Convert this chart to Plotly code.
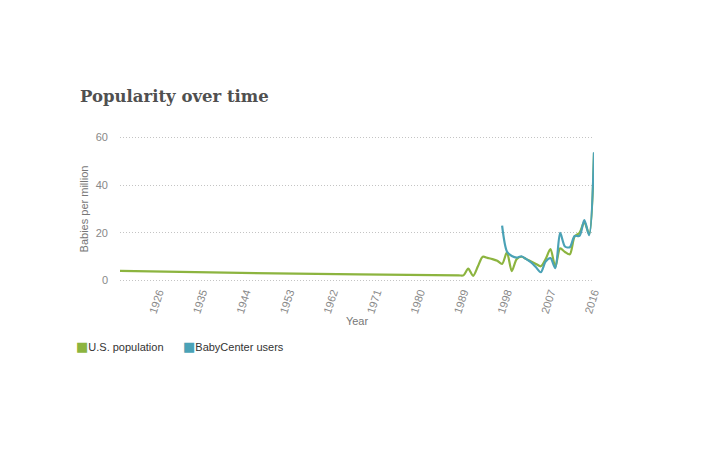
import plotly.graph_objects as go

# ---- data ----
us_years = [1918, 1950, 1988, 1989, 1990, 1991, 1992, 1993, 1994, 1995, 1996, 1997,
            1998, 1999, 2000, 2001, 2002, 2003, 2004, 2005, 2006, 2007, 2008,
            2009, 2010, 2011, 2012, 2013, 2014, 2015, 2016]
us_values = [4.1, 3.0, 2.2, 2.2, 5.0, 2.0, 6.0, 10.0, 9.5, 9.0, 8.3, 7.0,
             11.8, 4.0, 9.0, 10.0, 9.0, 8.0, 7.0, 6.0, 9.0, 13.2, 5.8,
             13.5, 12.0, 11.0, 18.5, 20.0, 24.5, 19.5, 53.5]

bc_years = [1997, 1998, 1999, 2000, 2001, 2002, 2003, 2004, 2005, 2006, 2007,
            2008, 2009, 2010, 2011, 2012, 2013, 2014, 2015, 2016]
bc_values = [23.0, 12.2, 10.3, 9.6, 10.2, 9.0, 7.6, 5.6, 3.5, 8.0, 9.4,
             5.2, 20.0, 14.3, 14.0, 18.7, 18.7, 25.3, 19.0, 53.8]

x_ticks = [1926, 1935, 1944, 1953, 1962, 1971, 1980, 1989, 1998, 2007, 2016]
y_ticks = [0, 20, 40, 60]

GREEN = "#8cb43f"
TEAL = "#4aa2b6"

fig = go.Figure()
fig.add_trace(go.Scatter(x=us_years, y=us_values, mode="lines", name="U.S. population",
                         line=dict(color=GREEN, width=2.2, shape="spline", smoothing=0.8),
                         showlegend=False))
fig.add_trace(go.Scatter(x=bc_years, y=bc_values, mode="lines", name="BabyCenter users",
                         line=dict(color=TEAL, width=2.2, shape="spline", smoothing=0.8),
                         showlegend=False))
# legend entries (square swatch drawn as a glyph right before the label)
SW = "<span style='color:{c};font-family:DejaVu Sans;font-size:13px'>■</span>"
fig.add_trace(go.Scatter(x=[None], y=[None], mode="markers", legend="legend",
                         name=SW.format(c=GREEN) + "U.S. population",
                         marker=dict(size=1, color="rgba(0,0,0,0)",
                                     line=dict(width=0, color="rgba(0,0,0,0)"))))
fig.add_trace(go.Scatter(x=[None], y=[None], mode="markers", legend="legend2",
                         name=SW.format(c=TEAL) + "BabyCenter users",
                         marker=dict(size=1, color="rgba(0,0,0,0)",
                                     line=dict(width=0, color="rgba(0,0,0,0)"))))

# page body has an 8px offset, positions below are in figure pixels
L, R = 112, 134
PW = 720 - L - R
Y0_PIX, Y60_PIX = 273.0, 129.0
ppu = (Y0_PIX - Y60_PIX) / 60.0
YMIN, YMAX = -1, 61
T = Y60_PIX - (YMAX - 60) * ppu
BOT = Y0_PIX + (0 - YMIN) * ppu
B = 449 - BOT
PH = BOT - T

leg_y = (BOT - 339) / PH
fig.update_layout(
    width=720, height=449,
    margin=dict(l=L, r=R, t=T, b=B, autoexpand=False),
    paper_bgcolor="white", plot_bgcolor="white",
    font=dict(family="Liberation Sans, Arial, sans-serif", color="#444", size=11),
    title=dict(text="<b>Popularity over time</b>", x=72/720, xanchor="left",
               y=1-88/449, yanchor="middle",
               font=dict(family="DejaVu Serif", size=16.5, color="#505050")),
    xaxis=dict(range=[1918, 2016], tickvals=x_ticks, ticktext=[str(t) for t in x_ticks],
               tickangle=-72, showgrid=False, zeroline=False, showline=False,
               tickfont=dict(size=11, color="#888"), ticks="", ticklen=0,
               title=dict(text="Year", font=dict(size=11, color="#777"), standoff=2)),
    yaxis=dict(range=[YMIN, YMAX], tickvals=y_ticks, showgrid=True, gridcolor="#c4c4c4",
               griddash="1px,2px", gridwidth=1, zeroline=False, showline=False,
               tickfont=dict(size=11, color="#888"), ticks="", ticklabelstandoff=11,
               title=dict(text="Babies per million", font=dict(size=11, color="#777"), standoff=4)),
    legend=dict(orientation="h", x=(28 - L) / PW, xanchor="left", y=leg_y, yanchor="middle",
                font=dict(size=11, color="#333"), itemwidth=30,
                bgcolor="rgba(0,0,0,0)"),
    legend2=dict(orientation="h", x=(135 - L) / PW, xanchor="left", y=leg_y, yanchor="middle",
                 font=dict(size=11, color="#333"), itemwidth=30,
                 bgcolor="rgba(0,0,0,0)"),
    showlegend=True,
)

fig.write_html("out.html")
